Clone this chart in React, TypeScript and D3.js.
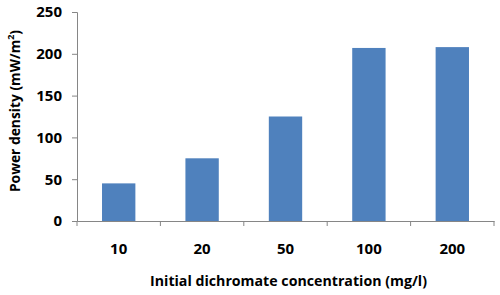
import React, { useEffect, useRef } from 'react'
import * as d3 from 'd3'

const categories = ['10', '20', '50', '100', '200']
const powerDensity = [45, 75, 125, 207, 208]
const yTicks = [0, 50, 100, 150, 200, 250]

const App = () => {
  const svgRef = useRef<SVGSVGElement>(null)

  useEffect(() => {
    const width = 500
    const height = 295
    const margin = { top: 12, right: 6, bottom: 74, left: 77 }
    const font = 'Open Sans, Liberation Sans, sans-serif'

    const svg = d3.select(svgRef.current).attr('width', width).attr('height', height)
    svg.selectAll('*').remove()

    const x = d3
      .scaleBand()
      .domain(categories)
      .range([margin.left, width - margin.right])
    const y = d3
      .scaleLinear()
      .domain([0, 250])
      .range([height - margin.bottom, margin.top])

    const barW = x.bandwidth() * 0.4

    // bars
    svg
      .append('g')
      .selectAll('rect')
      .data(powerDensity)
      .join('rect')
      .attr('x', (d, i) => x(categories[i])! + (x.bandwidth() - barW) / 2)
      .attr('y', (d) => y(d))
      .attr('width', barW)
      .attr('height', (d) => y(0) - y(d))
      .attr('fill', '#4f81bd')

    // y axis
    const yAxis = svg
      .append('g')
      .attr('transform', `translate(${margin.left},0)`)
      .call(d3.axisLeft(y).tickValues(yTicks).tickSize(5).tickPadding(10))
    yAxis.select('.domain').attr('stroke', '#868686')
    yAxis.selectAll('line').attr('stroke', '#868686')
    yAxis
      .selectAll('text')
      .attr('fill', '#000')
      .style('font-family', font)
      .style('font-weight', 'bold')
      .style('font-size', '15px')

    // x axis
    const xAxis = svg
      .append('g')
      .attr('transform', `translate(0,${y(0)})`)
      .call(d3.axisBottom(x).tickSize(0).tickPadding(22))
    xAxis.select('.domain').attr('stroke', '#868686')
    xAxis
      .selectAll('text')
      .attr('fill', '#000')
      .style('font-family', font)
      .style('font-weight', 'bold')
      .style('font-size', '15px')
    // tick marks between categories
    const bounds = categories.map((c) => x(c)!).concat([width - margin.right])
    xAxis
      .selectAll('line.sep')
      .data(bounds)
      .join('line')
      .attr('class', 'sep')
      .attr('x1', (d) => d)
      .attr('x2', (d) => d)
      .attr('y1', 0)
      .attr('y2', 5)
      .attr('stroke', '#868686')

    // axis titles
    svg
      .append('text')
      .text('Initial dichromate concentration (mg/l)')
      .attr('x', (margin.left + width - margin.right) / 2 + 3)
      .attr('y', 286)
      .attr('text-anchor', 'middle')
      .style('font-family', font)
      .style('font-weight', 'bold')
      .style('font-size', '14.2px')

    const yt = svg
      .append('text')
      .attr('transform', `translate(20,${111}) rotate(-90)`)
      .attr('text-anchor', 'middle')
      .style('font-family', font)
      .style('font-weight', 'bold')
      .style('font-size', '13.8px')
    yt.append('tspan').text('Power density (mW/m')
    yt.append('tspan').text('2').attr('dy', -6).style('font-size', '9px')
    yt.append('tspan').text(')').attr('dy', 6)
  }, [])

  return (
    <svg
      ref={svgRef}
      style={{ display: 'block', position: 'absolute', left: 0, top: 0 }}
    ></svg>
  )
}

export default App
